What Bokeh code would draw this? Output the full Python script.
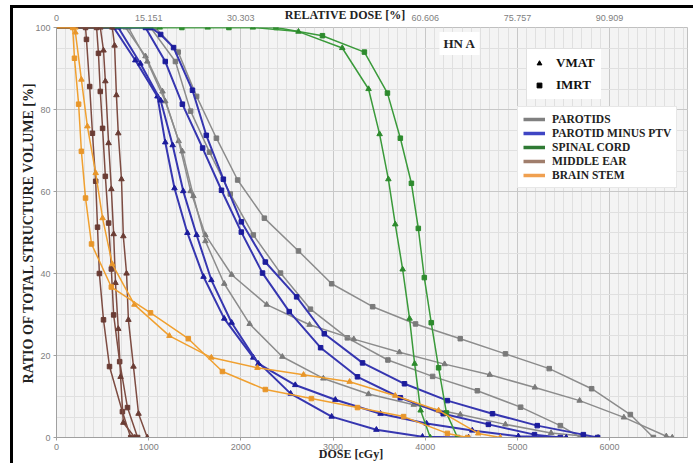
from bokeh.plotting import figure
from bokeh.models import (Range1d, LinearAxis, FixedTicker, SingleIntervalTicker, Label,
                          Legend, LegendItem, InlineStyleSheet)
from bokeh.embed import file_html
from bokeh.resources import INLINE

# ---------------- data (dose in cGy, volume in %) ----------------
# PAROTIDS (gray)
par_a_imrt_dose = [0, 1070, 1320, 1520, 1735, 1965, 2255, 2625, 2985, 3430, 3895, 4380, 4870, 5345, 5805, 6225, 6475]
par_a_imrt_vol = [100, 100, 94.0, 83.2, 73.0, 62.8, 53.5, 45.5, 37.5, 31.9, 27.7, 24.1, 20.4, 16.8, 11.9, 5.6, 0]
par_b_imrt_dose = [0, 1020, 1290, 1455, 1660, 1885, 2135, 2430, 2755, 3155, 3595, 4080, 4565, 5035, 5465, 5685]
par_b_imrt_vol = [100, 100, 91.7, 79.6, 69.6, 59.4, 49.4, 40.1, 31.3, 24.3, 18.9, 14.9, 11.4, 7.4, 2.9, 0]
par_a_vmat_dose = [0, 750, 965, 1150, 1325, 1455, 1615, 1900, 2280, 2745, 3225, 3720, 4210, 4700, 5190, 5675, 6155, 6615, 6680]
par_a_vmat_vol = [100, 100, 93.0, 84.4, 72.3, 60.1, 49.4, 39.7, 32.4, 27.5, 24.0, 20.8, 17.9, 15.3, 12.2, 9.0, 4.9, 0.3, 0]
par_b_vmat_dose = [0, 780, 985, 1180, 1365, 1485, 1615, 1820, 2095, 2450, 2895, 3385, 3875, 4380, 4870, 5365, 5875]
par_b_vmat_vol = [100, 100, 91.7, 82.0, 69.8, 58.9, 47.9, 37.5, 27.7, 19.7, 14.4, 10.6, 8.0, 5.6, 3.2, 1.1, 0]

# PAROTID MINUS PTV (blue)
ptv_a_vmat_dose = [0, 620, 855, 1095, 1180, 1280, 1420, 1595, 1820, 2135, 2540, 2985, 3470, 3970, 4470]
ptv_a_vmat_vol = [100, 100, 92.0, 83.2, 72.0, 60.8, 49.9, 39.2, 29.0, 19.5, 10.7, 5.1, 1.9, 0.2, 0]
ptv_b_vmat_dose = [0, 670, 910, 1130, 1260, 1375, 1520, 1680, 1900, 2190, 2590, 3025, 3515, 4015, 4510, 5010, 5530]
ptv_b_vmat_vol = [100, 100, 91.2, 82.2, 71.3, 60.1, 49.4, 38.4, 28.0, 18.0, 12.8, 9.2, 5.8, 3.4, 1.7, 0.3, 0]
ptv_a_imrt_dose = [0, 1020, 1130, 1270, 1475, 1625, 1810, 2005, 2265, 2605, 2905, 3320, 3775, 4240, 4730, 5215, 5715, 5870]
ptv_a_imrt_vol = [100, 100, 98.3, 95.1, 84.7, 73.7, 63.0, 52.6, 42.8, 34.3, 25.3, 18.2, 13.1, 9.0, 5.8, 2.9, 0.7, 0]
ptv_b_imrt_dose = [0, 965, 1180, 1365, 1585, 1790, 2005, 2235, 2525, 2865, 3265, 3730, 4195, 4685, 5185, 5465]
ptv_b_imrt_vol = [100, 100, 91.7, 81.3, 70.6, 60.3, 50.1, 40.1, 30.7, 21.9, 14.8, 9.7, 5.8, 3.2, 0.7, 0]

# SPINAL CORD (green)
cord_imrt_dose = [0, 1360, 1870, 2380, 2885, 3340, 3590, 3730, 3850, 3925, 3990, 4065, 4145, 4230, 4350]
cord_imrt_vol = [100, 100, 100, 100, 98, 94, 84, 73, 62, 51, 39, 28, 17, 6, 0]
cord_vmat_dose = [0, 1120, 1640, 2130, 2625, 3100, 3385, 3505, 3600, 3675, 3755, 3830, 3885, 3950, 4055]
cord_vmat_vol = [100, 100, 100, 100, 99, 95, 85, 74, 63, 52, 41, 29, 18, 6.6, 0]

# MIDDLE EAR (brown)
ear_a_imrt_dose = [0, 315, 325, 360, 390, 425, 445, 465, 510, 575, 715, 805]
ear_a_imrt_vol = [100, 100, 97.1, 85.6, 74.2, 62.5, 51.3, 40.0, 28.7, 17.3, 6.3, 0]
ear_b_imrt_dose = [0, 435, 455, 475, 500, 530, 565, 595, 620, 685, 770, 880]
ear_b_imrt_vol = [100, 100, 93.7, 84.4, 75.4, 63.7, 52.3, 41.1, 29.9, 18.5, 7.3, 0]
ear_a_vmat_dose = [0, 475, 510, 530, 565, 595, 620, 640, 670, 695, 725, 850]
ear_a_vmat_vol = [100, 100, 94.4, 86.9, 71.8, 60.6, 49.6, 37.7, 26.5, 14.8, 3.6, 0]
ear_b_vmat_dose = [0, 605, 630, 650, 670, 705, 725, 760, 780, 835, 890, 985]
ear_b_vmat_vol = [100, 100, 95.6, 83.5, 74.2, 63.0, 49.1, 40.0, 28.7, 17.3, 5.8, 0]

# BRAIN STEM (orange)
stem_vmat_dose = [0, 205, 205, 270, 335, 425, 500, 605, 845, 1225, 1680, 2180, 2680, 3180, 3675, 4145, 4575, 4815]
stem_vmat_vol = [100, 100, 98.8, 87.3, 75.9, 64.5, 53.5, 42.3, 32.4, 24.8, 19.5, 17.0, 15.3, 13.6, 10.2, 6.6, 1.0, 0]
stem_imrt_dose = [0, 175, 195, 240, 270, 315, 380, 595, 1020, 1430, 1800, 2265, 2765, 3265, 3765, 4240, 4460]
stem_imrt_vol = [100, 100, 92.5, 81.3, 69.8, 58.4, 47.2, 36.7, 30.4, 24.1, 16.1, 11.7, 9.5, 7.3, 5.1, 1.0, 0]

# axes
dose_max = 6845
prescription = 6600
rel_ticks = [0, 15.151, 30.303, 60.606, 75.757, 90.909]
rel_labels = ["0", "15.151", "30.303", "60.606", "75.757", "90.909"]
structures = ["PAROTIDS", "PAROTID MINUS PTV", "SPINAL CORD", "MIDDLE EAR", "BRAIN STEM"]
techniques = ["VMAT", "IMRT"]

NB = "\u00a0"  # non-breaking padding that shifts a centred axis title to the left

# ---------------- figure ----------------
SERIF = "Liberation Serif"
SANS = "Liberation Sans"

frame_css = InlineStyleSheet(css="""
:host::after {
  content: "";
  position: absolute;
  left: 10px; top: 5px; right: 0px; bottom: 0px;
  border-top: 3px solid #000;
  border-left: 3px solid #000;
  pointer-events: none;
}
""")

p = figure(width=693, height=463, x_range=Range1d(0, dose_max), y_range=Range1d(0, 100),
           output_backend="svg", toolbar_location=None,
           min_border_left=56, min_border_right=6, min_border_top=27, min_border_bottom=26,
           background_fill_color="#f4f4f4", border_fill_color="white",
           outline_line_color="#c0c0c0", stylesheets=[frame_css])

p.xaxis.ticker = SingleIntervalTicker(interval=1000, num_minor_ticks=10)
p.yaxis.ticker = SingleIntervalTicker(interval=20, num_minor_ticks=4)
for ax in (p.xaxis, p.yaxis):
    ax.axis_line_color = "#a0a0a0"
    ax.major_tick_line_color = "#a0a0a0"
    ax.major_tick_out = 3
    ax.major_tick_in = 0
    ax.minor_tick_line_color = None
    ax.major_label_standoff = 2
    ax.major_label_text_font = SANS
    ax.major_label_text_font_size = "9px"
    ax.major_label_text_color = "#808080"
    ax.axis_label_text_font = SERIF
    ax.axis_label_text_font_style = "bold"
    ax.axis_label_text_color = "#222222"

p.xaxis.axis_label = "DOSE [cGy]" + NB * 14
p.xaxis.axis_label_text_font_size = "12px"
p.xaxis.axis_label_standoff = -6
p.yaxis.axis_label = "RATIO OF TOTAL STRUCTURE VOLUME [%]"
p.yaxis.axis_label_text_font_size = "14px"
p.yaxis.axis_label_standoff = -4

p.xgrid.grid_line_color = "#c8c8c8"
p.ygrid.grid_line_color = "#c8c8c8"
p.xgrid.minor_grid_line_color = "#e0e0e0"
p.ygrid.minor_grid_line_color = "#e0e0e0"

p.extra_x_ranges = {"rel": Range1d(0, dose_max / prescription * 100)}
top = LinearAxis(x_range_name="rel", ticker=FixedTicker(ticks=rel_ticks),
                 major_label_overrides={t: s for t, s in zip(rel_ticks, rel_labels)})
top.axis_line_color = None
top.major_tick_line_color = None
top.minor_tick_line_color = None
top.major_label_standoff = 1
top.major_label_text_font = SANS
top.major_label_text_font_size = "9px"
top.major_label_text_color = "#808080"
top.axis_label = "RELATIVE DOSE [%]" + NB * 18
top.axis_label_text_font = SERIF
top.axis_label_text_font_style = "bold"
top.axis_label_text_font_size = "12px"
top.axis_label_text_color = "#222222"
top.axis_label_standoff = -10
p.add_layout(top, "above")

GRAY, BLUE, GREEN, BROWN, ORANGE = "#8c8c8c", "#3636b0", "#3a9a3a", "#7d4c42", "#f0a030"
MGRAY, MBLUE, MGREEN, MBROWN, MORANGE = "#7a7a7a", "#1c1c9c", "#2d8a2d", "#6a3c34", "#e8962a"


def curve(d, v, color, mcolor, marker, lw=1.5):
    p.line(d, v, line_color=color, line_width=lw)
    p.scatter(d[1:], v[1:], marker=marker, size=5.5 if marker == "triangle" else 4.5,
              fill_color=mcolor, line_color=mcolor)


curve(par_a_imrt_dose, par_a_imrt_vol, GRAY, MGRAY, "square")
curve(par_b_imrt_dose, par_b_imrt_vol, GRAY, MGRAY, "square")
curve(par_a_vmat_dose, par_a_vmat_vol, GRAY, MGRAY, "triangle")
curve(par_b_vmat_dose, par_b_vmat_vol, GRAY, MGRAY, "triangle")
curve(ptv_a_imrt_dose, ptv_a_imrt_vol, BLUE, MBLUE, "square", 2)
curve(ptv_b_imrt_dose, ptv_b_imrt_vol, BLUE, MBLUE, "square", 2)
curve(ptv_a_vmat_dose, ptv_a_vmat_vol, BLUE, MBLUE, "triangle", 2)
curve(ptv_b_vmat_dose, ptv_b_vmat_vol, BLUE, MBLUE, "triangle", 2)
curve(cord_imrt_dose, cord_imrt_vol, GREEN, MGREEN, "square")
curve(cord_vmat_dose, cord_vmat_vol, GREEN, MGREEN, "triangle")
curve(ear_a_imrt_dose, ear_a_imrt_vol, BROWN, MBROWN, "square")
curve(ear_b_imrt_dose, ear_b_imrt_vol, BROWN, MBROWN, "square")
curve(ear_a_vmat_dose, ear_a_vmat_vol, BROWN, MBROWN, "triangle")
curve(ear_b_vmat_dose, ear_b_vmat_vol, BROWN, MBROWN, "triangle")
curve(stem_vmat_dose, stem_vmat_vol, ORANGE, MORANGE, "triangle")
curve(stem_imrt_dose, stem_imrt_vol, ORANGE, MORANGE, "square")

# ---------------- structure legend (proxy glyphs placed outside the visible range) ----------------
leg_colors = ["#808080", "#3f45c4", "#2f7a34", "#a07e6c", "#f0a050"]
items = []
for name, c in zip(structures, leg_colors):
    r = p.line([-2000, -1000], [-50, -50], line_color=c, line_width=3.5)
    items.append(LegendItem(label=name, renderers=[r]))
leg = Legend(items=items, location=(461, 249))
leg.label_text_font = SERIF
leg.label_text_font_style = "bold"
leg.label_text_font_size = "11.5px"
leg.label_text_color = "#222222"
leg.glyph_width = 22
leg.glyph_height = 14
leg.label_height = 14
leg.label_standoff = 7
leg.spacing = 0
leg.padding = 5
leg.margin = 0
leg.border_line_color = "#d0d0d0"
leg.background_fill_color = "white"
leg.background_fill_alpha = 1
p.add_layout(leg)

# ---------------- technique legend ----------------
r_tri = p.scatter([-2000], [-50], marker="triangle", size=13, fill_color="black", line_color="black")
r_sq = p.scatter([-2000], [-50], marker="square", size=10, fill_color="black", line_color="black")
leg2 = Legend(items=[LegendItem(label=techniques[0], renderers=[r_tri]),
                     LegendItem(label=techniques[1], renderers=[r_sq])],
              location=(471, 338))
leg2.label_text_font = SERIF
leg2.label_text_font_style = "bold"
leg2.label_text_font_size = "13px"
leg2.label_text_color = "#111111"
leg2.glyph_width = 12
leg2.glyph_height = 14
leg2.label_height = 14
leg2.label_standoff = 11
leg2.spacing = 6
leg2.padding = 6
leg2.margin = 0
leg2.border_line_alpha = 0
leg2.background_fill_color = "white"
leg2.background_fill_alpha = 1
p.add_layout(leg2)

# ---------------- case label ----------------
p.add_layout(Label(x=403, y=394, x_units="screen", y_units="screen", text="HN A",
                   text_font=SERIF, text_font_style="bold", text_font_size="13px",
                   text_align="center", text_baseline="middle", text_color="#222222",
                   background_fill_color="white", padding=4))

open("out.html", "w").write(file_html(p, INLINE))
